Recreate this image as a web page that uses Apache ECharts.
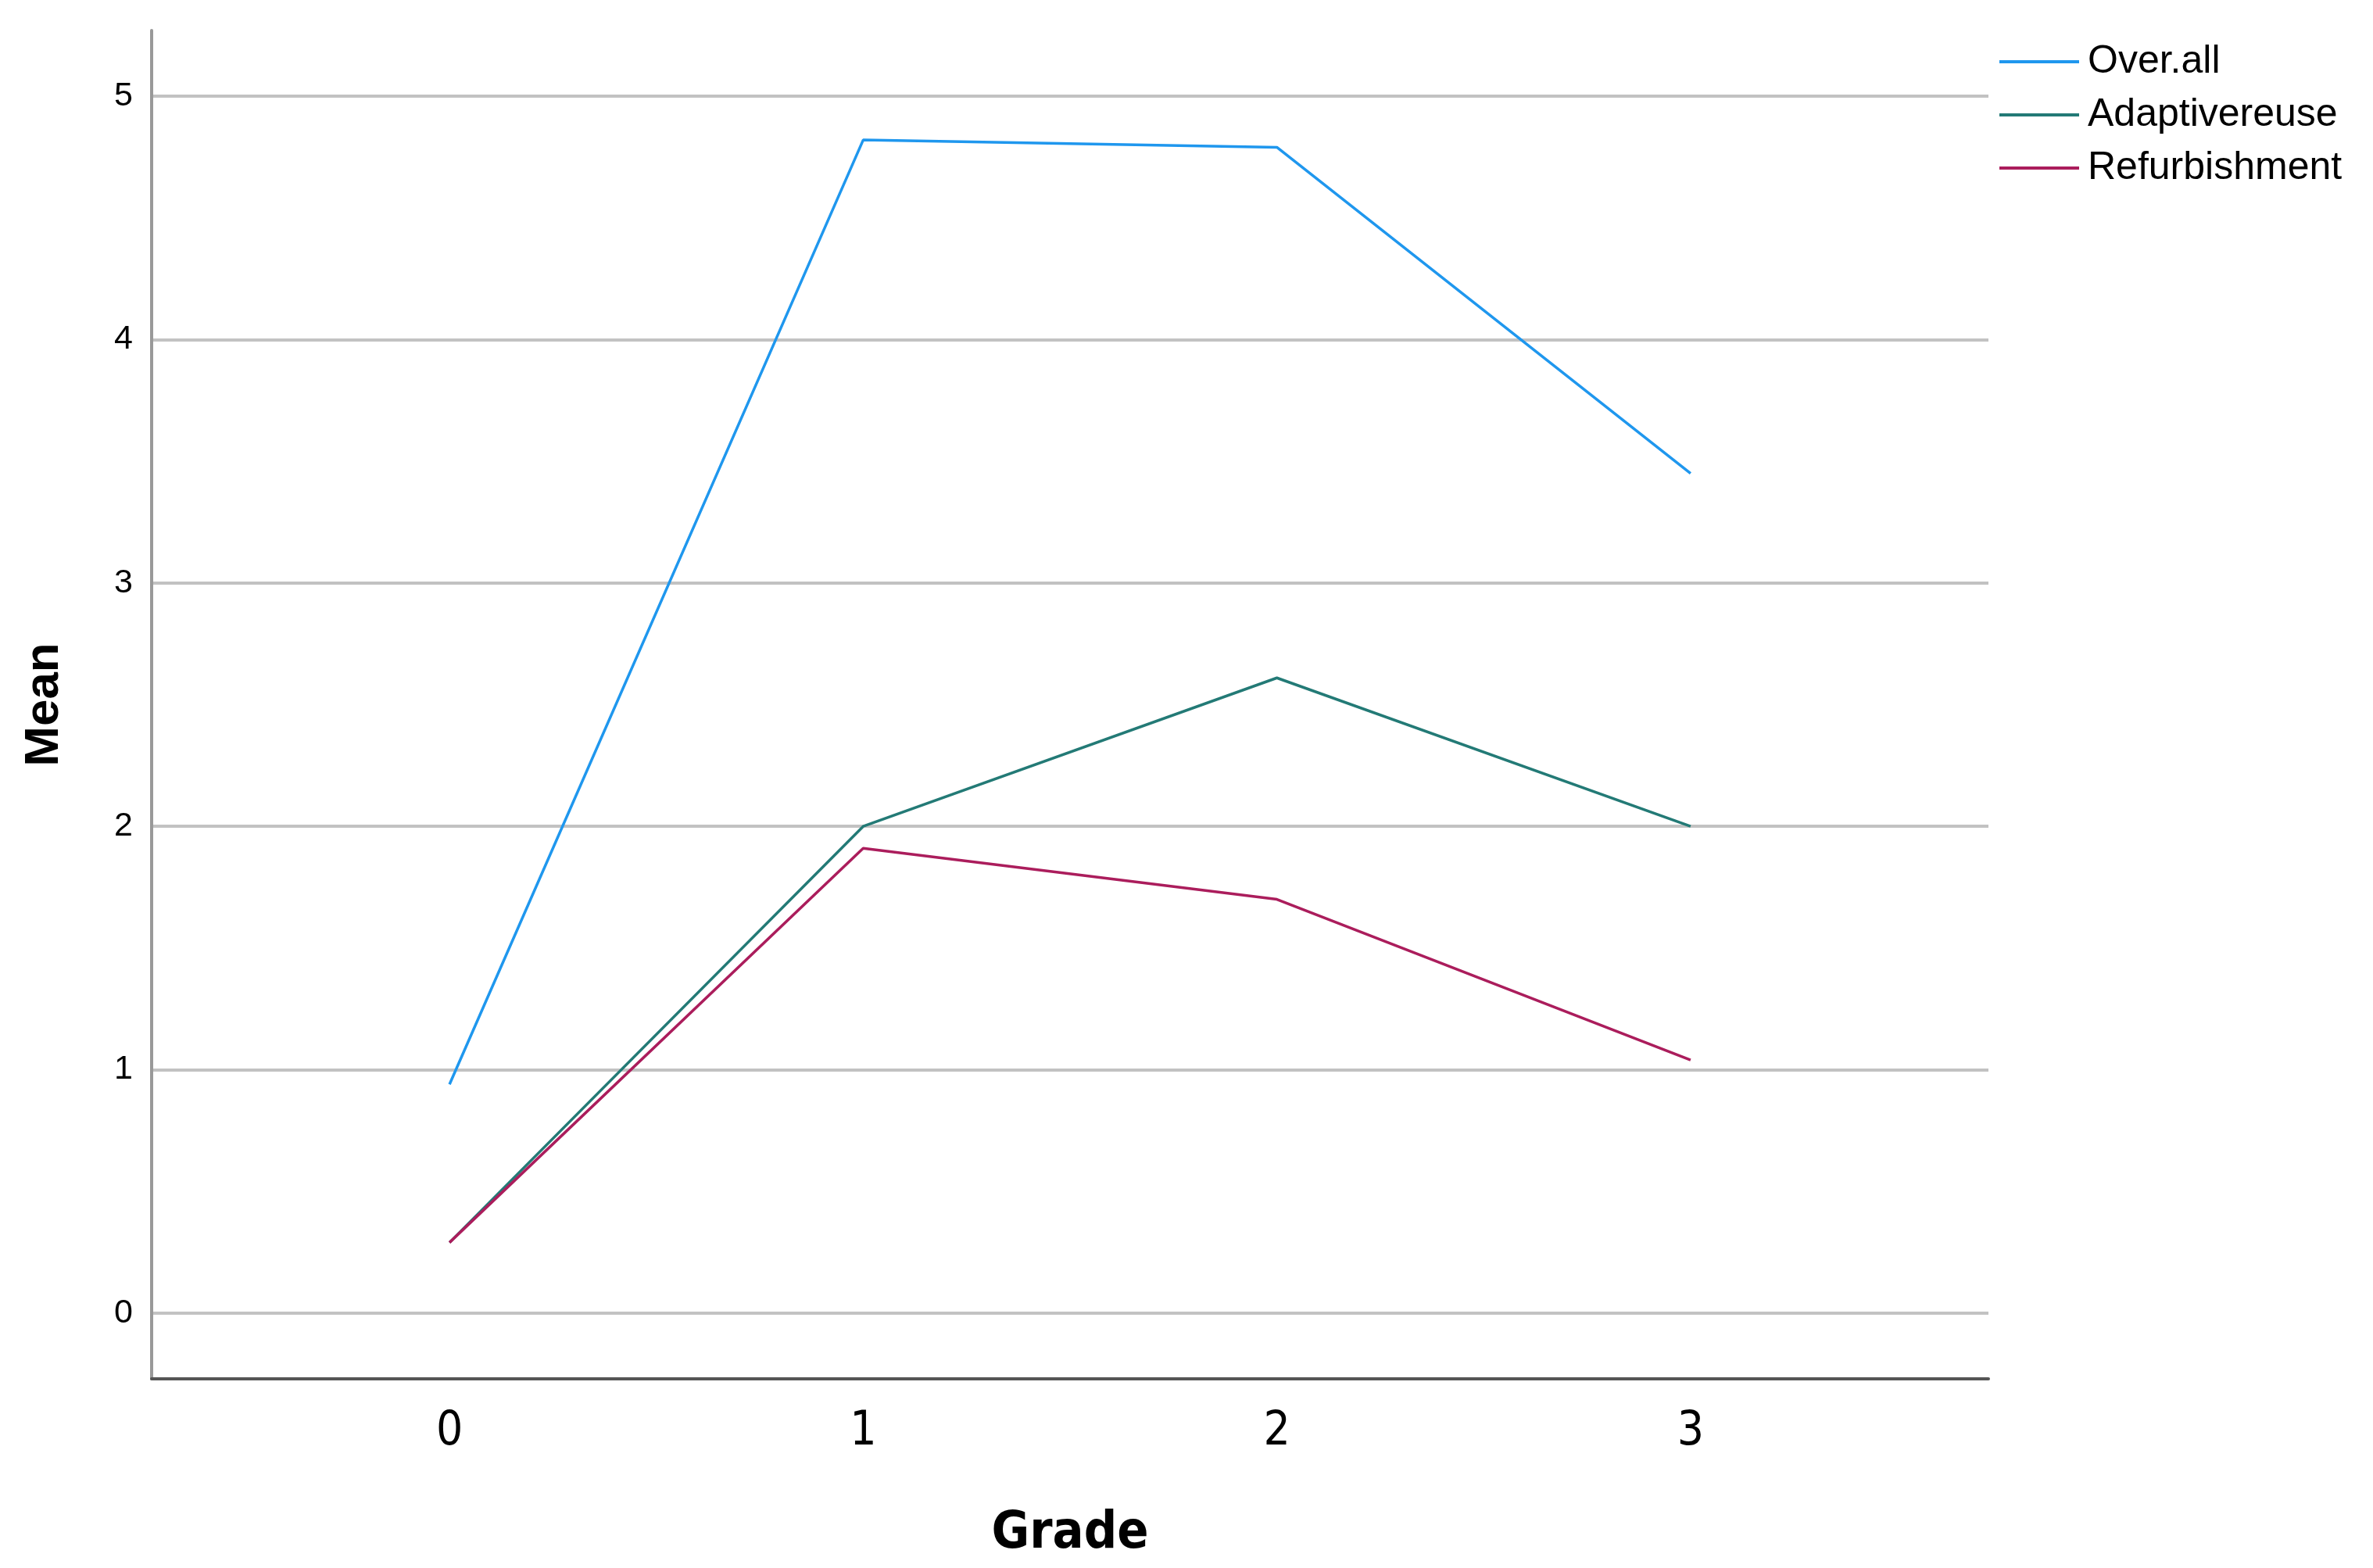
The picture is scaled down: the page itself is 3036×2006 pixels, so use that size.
<!DOCTYPE html>
<html>
<head>
<meta charset="utf-8">
<script src="https://cdn.jsdelivr.net/npm/echarts@6/dist/echarts.min.js"></script>
<style>
html,body{margin:0;padding:0;background:#fff;}
#chart{width:3036px;height:2006px;}
</style>
</head>
<body>
<div id="chart"></div>
<script>
// ---- data ----
const grades = [0, 1, 2, 3];
const seriesNames = ['Over.all', 'Adaptivereuse', 'Refurbishment'];
const overAll = [0.94, 4.82, 4.79, 3.45];
const adaptiveReuse = [0.29, 2.0, 2.61, 2.0];
const refurbishment = [0.29, 1.91, 1.70, 1.04];
const yTicks = [0, 1, 2, 3, 4, 5];
const xTicks = [0, 1, 2, 3];

const colors = ['#1f97ee', '#237a76', '#ab1d5c'];
const values = [overAll, adaptiveReuse, refurbishment];
const narrow = "'Liberation Sans Narrow', 'DejaVu Sans Condensed', 'Roboto Condensed', 'Liberation Sans', sans-serif";

function pairs(vals) { return grades.map((g, i) => [g, vals[i]]); }

const chart = echarts.init(document.getElementById('chart'), null, {renderer: 'canvas'});
chart.setOption({
  backgroundColor: '#ffffff',
  animation: false,
  grid: {left: 194, right: 492, top: 39, bottom: 242, containLabel: false},
  legend: {
    orient: 'vertical',
    left: 2553,
    top: 49,
    icon: 'rect',
    itemWidth: 102,
    itemHeight: 4,
    itemGap: 18,
    textStyle: {fontFamily: 'Liberation Sans', fontSize: 50, lineHeight: 50, color: '#000', padding: [0, 0, 0, 6]},
    data: seriesNames
  },
  xAxis: {
    type: 'value',
    min: -0.72,
    max: 3.72,
    name: 'Grade',
    nameLocation: 'middle',
    nameGap: 166,
    nameTextStyle: {fontFamily: narrow, fontWeight: 'bold', fontSize: 66, color: '#000'},
    axisLine: {show: true, onZero: false, lineStyle: {color: '#555', width: 4}},
    axisTick: {show: false, customValues: xTicks},
    splitLine: {show: false},
    axisLabel: {customValues: xTicks, fontFamily: narrow, fontSize: 60, color: '#000', margin: 38}
  },
  yAxis: {
    type: 'value',
    min: -0.27,
    max: 5.27,
    name: 'Mean',
    nameLocation: 'middle',
    nameGap: 106,
    nameTextStyle: {fontFamily: 'Liberation Sans', fontWeight: 'bold', fontSize: 62, color: '#000'},
    axisLine: {show: true, onZero: false, lineStyle: {color: '#999', width: 4}},
    axisTick: {show: false, customValues: yTicks},
    splitLine: {show: true, lineStyle: {color: '#c2c2c2', width: 4}},
    axisLabel: {customValues: yTicks, fontFamily: 'Liberation Sans', fontSize: 43, color: '#000', margin: 24}
  },
  series: seriesNames.map((n, i) => ({
    name: n,
    type: 'line',
    data: pairs(values[i]),
    symbol: 'none',
    color: colors[i],
    lineStyle: {color: colors[i], width: 3.5}
  }))
});
</script>
</body>
</html>
